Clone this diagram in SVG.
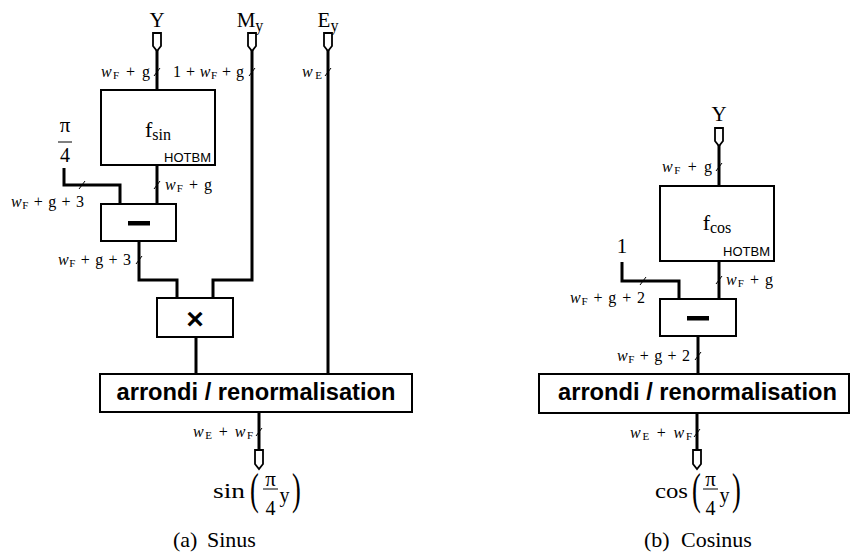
<svg xmlns="http://www.w3.org/2000/svg" width="851" height="555" viewBox="0 0 851 555">
<style>
.bus{fill:none;stroke:#000;stroke-width:3;stroke-linejoin:miter}
.box{fill:#fff;stroke:#000;stroke-width:2}
.port{fill:#fff;stroke:#000;stroke-width:1.8}
.tick{stroke:#000;stroke-width:1}
.m{font-family:"Liberation Serif","DejaVu Serif",serif;fill:#000}
.lbl{font-family:"Liberation Serif","DejaVu Serif",serif;font-size:16px;fill:#000}
.big{font-family:"Liberation Serif","DejaVu Serif",serif;font-size:21px;fill:#000}
.sans{font-family:"Liberation Sans",Arial,sans-serif;fill:#000}
.cap{font-family:"Liberation Serif","Times New Roman",serif;font-size:22px;fill:#000}
</style>
<rect width="851" height="555" fill="#fff"/>

<g id="connectors">
  <!-- left -->
  <path class="bus" d="M157,50 V90"/>
  <path class="bus" d="M252,50 V280 H213 V298"/>
  <path class="bus" d="M328,50 V374"/>
  <path class="bus" d="M157,165 V204"/>
  <path class="bus" d="M64,168 V185 H120 V204"/>
  <path class="bus" d="M139,241 V280 H177 V298"/>
  <path class="bus" d="M196,337 V374"/>
  <path class="bus" d="M259,412 V451"/>
  <!-- right -->
  <path class="bus" d="M719,145 V186"/>
  <path class="bus" d="M719,261 V299"/>
  <path class="bus" d="M622,262 V281 H679 V299"/>
  <path class="bus" d="M698,336 V374"/>
  <path class="bus" d="M697,413 V451"/>
  <!-- ticks -->
  <g class="tick">
    <line x1="154" y1="76" x2="160" y2="68"/>
    <line x1="249" y1="76" x2="255" y2="68"/>
    <line x1="325" y1="76" x2="331" y2="68"/>
    <line x1="154" y1="189" x2="160" y2="181"/>
    <line x1="79" y1="189" x2="85" y2="181"/>
    <line x1="136" y1="264" x2="142" y2="256"/>
    <line x1="256" y1="436" x2="262" y2="428"/>
    <line x1="716" y1="171" x2="722" y2="163"/>
    <line x1="716" y1="284" x2="722" y2="276"/>
    <line x1="640" y1="285" x2="646" y2="277"/>
    <line x1="695" y1="360" x2="701" y2="352"/>
    <line x1="694" y1="437" x2="700" y2="429"/>
  </g>
  <!-- bus width labels -->
  <text class="lbl" x="150" y="77" text-anchor="end" textLength="49" lengthAdjust="spacing"><tspan font-style="italic">w</tspan><tspan font-size="11" dy="2">F</tspan><tspan dy="-2"> + g</tspan></text>
  <text class="lbl" x="244" y="77" text-anchor="end" textLength="71" lengthAdjust="spacing">1 + <tspan font-style="italic">w</tspan><tspan font-size="11" dy="2">F</tspan><tspan dy="-2"> + g</tspan></text>
  <text class="lbl" x="322" y="77" text-anchor="end" textLength="20" lengthAdjust="spacing"><tspan font-style="italic">w</tspan><tspan font-size="11" dy="2">E</tspan></text>
  <text class="lbl" x="165" y="190" textLength="47" lengthAdjust="spacing"><tspan font-style="italic">w</tspan><tspan font-size="11" dy="2">F</tspan><tspan dy="-2"> + g</tspan></text>
  <text class="lbl" x="84" y="207" text-anchor="end" textLength="73" lengthAdjust="spacing"><tspan font-style="italic">w</tspan><tspan font-size="11" dy="2">F</tspan><tspan dy="-2"> + g + 3</tspan></text>
  <text class="lbl" x="131" y="265" text-anchor="end" textLength="73" lengthAdjust="spacing"><tspan font-style="italic">w</tspan><tspan font-size="11" dy="2">F</tspan><tspan dy="-2"> + g + 3</tspan></text>
  <text class="lbl" x="253" y="437" text-anchor="end" textLength="60" lengthAdjust="spacing"><tspan font-style="italic">w</tspan><tspan font-size="11" dy="2">E</tspan><tspan dy="-2"> + </tspan><tspan font-style="italic">w</tspan><tspan font-size="11" dy="2">F</tspan></text>
  <text class="lbl" x="712" y="172" text-anchor="end" textLength="50" lengthAdjust="spacing"><tspan font-style="italic">w</tspan><tspan font-size="11" dy="2">F</tspan><tspan dy="-2"> + g</tspan></text>
  <text class="lbl" x="726" y="285" textLength="47" lengthAdjust="spacing"><tspan font-style="italic">w</tspan><tspan font-size="11" dy="2">F</tspan><tspan dy="-2"> + g</tspan></text>
  <text class="lbl" x="645" y="303" text-anchor="end" textLength="75" lengthAdjust="spacing"><tspan font-style="italic">w</tspan><tspan font-size="11" dy="2">F</tspan><tspan dy="-2"> + g + 2</tspan></text>
  <text class="lbl" x="690" y="361" text-anchor="end" textLength="73" lengthAdjust="spacing"><tspan font-style="italic">w</tspan><tspan font-size="11" dy="2">F</tspan><tspan dy="-2"> + g + 2</tspan></text>
  <text class="lbl" x="692" y="438" text-anchor="end" textLength="62" lengthAdjust="spacing"><tspan font-style="italic">w</tspan><tspan font-size="11" dy="2">E</tspan><tspan dy="-2"> + </tspan><tspan font-style="italic">w</tspan><tspan font-size="11" dy="2">F</tspan></text>
</g>

<!-- Left diagram (a) -->
<g id="in-Y">
  <text class="big" x="157" y="27" text-anchor="middle">Y</text>
  <path class="port" d="M153,33 H161 V46 L157,51 L153,46 Z"/>
</g>
<g id="in-My">
  <text class="big" x="250" y="27" text-anchor="middle">M<tspan font-size="16" dy="4">y</tspan></text>
  <path class="port" d="M248,33 H256 V46 L252,51 L248,46 Z"/>
</g>
<g id="in-Ey">
  <text class="big" x="328" y="27" text-anchor="middle">E<tspan font-size="16" dy="4">y</tspan></text>
  <path class="port" d="M324,33 H332 V46 L328,51 L324,46 Z"/>
</g>
<g id="fsin">
  <rect class="box" x="101" y="90" width="114" height="75"/>
  <text class="m" x="158" y="137" text-anchor="middle" font-size="22">f<tspan font-size="16" dy="3">sin</tspan></text>
  <text class="sans" x="211" y="162" text-anchor="end" font-size="13">HOTBM</text>
</g>
<g id="pi4">
  <text class="m" x="65" y="132" text-anchor="middle" font-size="21">π</text>
  <line x1="58" y1="142" x2="72" y2="142" stroke="#000" stroke-width="1"/>
  <text class="m" x="65" y="162" text-anchor="middle" font-size="20">4</text>
</g>
<g id="sub-sin">
  <rect class="box" x="101" y="204" width="75" height="37"/>
  <rect x="128" y="221" width="22" height="4.5" fill="#000"/>
</g>
<g id="mul">
  <rect class="box" x="157" y="298" width="76" height="39"/>
  <text class="sans" x="195" y="329" text-anchor="middle" font-size="30" font-weight="bold">×</text>
</g>
<g id="round-sin">
  <rect class="box" x="100" y="374" width="312" height="38"/>
  <text class="sans" x="256" y="400" text-anchor="middle" font-size="23" font-weight="bold" textLength="279" lengthAdjust="spacingAndGlyphs">arrondi / renormalisation</text>
</g>
<g id="out-sin">
  <path class="port" d="M255,450 H263 V464 L259,469 L255,464 Z"/>
  <text class="m" x="229" y="498" text-anchor="middle" font-size="22" textLength="32" lengthAdjust="spacingAndGlyphs">sin</text>
  <text class="m" transform="translate(250,504) scale(0.6,1)" font-size="44">(</text>
  <text class="m" x="270.5" y="486" text-anchor="middle" font-size="21">π</text>
  <line x1="263" y1="489" x2="278" y2="489" stroke="#000" stroke-width="1"/>
  <text class="m" x="270.5" y="515" text-anchor="middle" font-size="20">4</text>
  <text class="m" x="284.5" y="502" text-anchor="middle" font-size="20">y</text>
  <text class="m" transform="translate(292,504) scale(0.6,1)" font-size="44">)</text>
  <text class="cap" x="173" y="547">(a)<tspan x="207">Sinus</tspan></text>
</g>

<!-- Right diagram (b) -->
<g id="in-Y2">
  <text class="big" x="719" y="121" text-anchor="middle">Y</text>
  <path class="port" d="M715,128 H723 V141 L719,146 L715,141 Z"/>
</g>
<g id="fcos">
  <rect class="box" x="660" y="186" width="114" height="75"/>
  <text class="m" x="717" y="230" text-anchor="middle" font-size="22">f<tspan font-size="16" dy="3">cos</tspan></text>
  <text class="sans" x="770" y="256" text-anchor="end" font-size="13">HOTBM</text>
</g>
<g id="one">
  <text class="m" x="622" y="253" text-anchor="middle" font-size="21">1</text>
</g>
<g id="sub-cos">
  <rect class="box" x="660" y="299" width="76" height="37"/>
  <rect x="687" y="316" width="22" height="4.5" fill="#000"/>
</g>
<g id="round-cos">
  <rect class="box" x="539" y="374" width="310" height="39"/>
  <text class="sans" x="697.5" y="400" text-anchor="middle" font-size="23" font-weight="bold" textLength="279" lengthAdjust="spacingAndGlyphs">arrondi / renormalisation</text>
</g>
<g id="out-cos">
  <path class="port" d="M693,450 H701 V464 L697,469 L693,464 Z"/>
  <text class="m" x="671.5" y="498" text-anchor="middle" font-size="22" textLength="33" lengthAdjust="spacingAndGlyphs">cos</text>
  <text class="m" transform="translate(692,504) scale(0.6,1)" font-size="44">(</text>
  <text class="m" x="710.5" y="486" text-anchor="middle" font-size="21">π</text>
  <line x1="703" y1="489" x2="718" y2="489" stroke="#000" stroke-width="1"/>
  <text class="m" x="710.5" y="515" text-anchor="middle" font-size="20">4</text>
  <text class="m" x="724.5" y="502" text-anchor="middle" font-size="20">y</text>
  <text class="m" transform="translate(732,504) scale(0.6,1)" font-size="44">)</text>
  <text class="cap" x="644" y="547">(b)<tspan x="681">Cosinus</tspan></text>
</g>
</svg>
